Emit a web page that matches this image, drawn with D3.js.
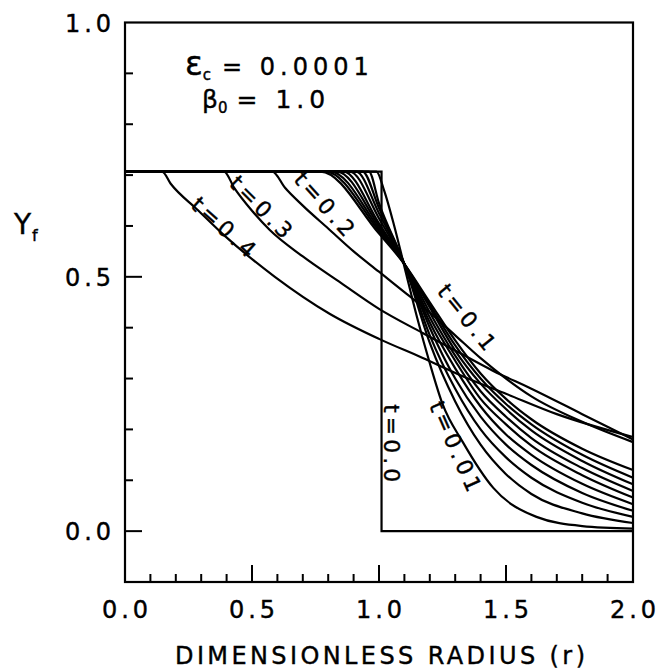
<!DOCTYPE html>
<html>
<head>
<meta charset="utf-8">
<script src="https://cdnjs.cloudflare.com/ajax/libs/d3/7.8.5/d3.min.js"></script>
<style>
  body { margin: 0; background: #fff; }
  svg text { font-family: "DejaVu Sans", sans-serif; fill: #000; stroke: #000; stroke-width: 0.4; }
  .curve { fill: none; stroke: #000; stroke-width: 2.2; }
  .frame { fill: none; stroke: #000; stroke-width: 2.2; }
  .tick { stroke: #000; stroke-width: 2; }
</style>
</head>
<body>
<div id="chart"></div>
<script>
// profiles of Yf against r, one array per time
var profile_t000 = [[0, 0.707], [1.01, 0.707], [1.01, 0], [2.0, 0]];
var profile_t001 = [[0, 0.707], [0.99, 0.707], [1.02, 0.67], [1.06, 0.60], [1.10, 0.52], [1.15, 0.42], [1.20, 0.33], [1.25, 0.25], [1.33, 0.175], [1.45, 0.085], [1.62, 0.028], [1.8, 0.01], [2.0, 0.005]];
var profile_t002 = [[0, 0.707], [0.96, 0.707], [1.0, 0.645], [1.1, 0.525], [1.2, 0.37], [1.3, 0.255], [1.4, 0.17], [1.5, 0.112], [1.6, 0.073], [1.8, 0.035], [2.0, 0.016]];
var profile_t003 = [[0, 0.707], [0.935, 0.707], [1.0, 0.635], [1.1, 0.525], [1.2, 0.385], [1.3, 0.28], [1.4, 0.20], [1.5, 0.145], [1.6, 0.105], [1.8, 0.056], [2.0, 0.028]];
var profile_t004 = [[0, 0.707], [0.91, 0.707], [1.0, 0.625], [1.1, 0.525], [1.2, 0.40], [1.3, 0.30], [1.4, 0.225], [1.5, 0.17], [1.6, 0.13], [1.8, 0.075], [2.0, 0.04]];
var profile_t005 = [[0, 0.707], [0.885, 0.707], [1.0, 0.615], [1.1, 0.525], [1.2, 0.41], [1.3, 0.32], [1.4, 0.245], [1.5, 0.19], [1.6, 0.15], [1.8, 0.093], [2.0, 0.053]];
var profile_t006 = [[0, 0.707], [0.86, 0.707], [1.0, 0.605], [1.1, 0.525], [1.2, 0.42], [1.3, 0.335], [1.4, 0.26], [1.5, 0.21], [1.6, 0.168], [1.8, 0.11], [2.0, 0.066]];
var profile_t007 = [[0, 0.707], [0.835, 0.707], [1.0, 0.60], [1.1, 0.525], [1.2, 0.43], [1.3, 0.345], [1.4, 0.275], [1.5, 0.225], [1.6, 0.183], [1.8, 0.124], [2.0, 0.079]];
var profile_t008 = [[0, 0.707], [0.81, 0.707], [1.0, 0.595], [1.1, 0.525], [1.2, 0.44], [1.3, 0.355], [1.4, 0.29], [1.5, 0.24], [1.6, 0.198], [1.8, 0.138], [2.0, 0.092]];
var profile_t009 = [[0, 0.707], [0.79, 0.707], [1.0, 0.59], [1.1, 0.525], [1.2, 0.445], [1.3, 0.365], [1.4, 0.30], [1.5, 0.25], [1.6, 0.21], [1.8, 0.15], [2.0, 0.105]];
var profile_t010 = [[0, 0.707], [0.77, 0.707], [1.0, 0.585], [1.1, 0.525], [1.2, 0.45], [1.3, 0.375], [1.4, 0.31], [1.5, 0.26], [1.6, 0.22], [1.8, 0.162], [2.0, 0.12]];
var profile_t020 = [[0, 0.707], [0.58, 0.707], [0.63, 0.675], [0.7, 0.64], [0.8, 0.595], [0.9, 0.55], [1.0, 0.51], [1.1, 0.47], [1.2, 0.43], [1.3, 0.385], [1.4, 0.34], [1.5, 0.30], [1.6, 0.265], [1.8, 0.215], [2.0, 0.175]];
var profile_t030 = [[0, 0.707], [0.39, 0.707], [0.43, 0.675], [0.5, 0.63], [0.57, 0.592], [0.7, 0.54], [0.85, 0.488], [1.0, 0.437], [1.17, 0.39], [1.3, 0.355], [1.45, 0.315], [1.6, 0.28], [1.8, 0.23], [2.0, 0.18]];
var profile_t040 = [[0, 0.707], [0.146, 0.707], [0.18, 0.683], [0.283, 0.633], [0.394, 0.58], [0.59, 0.50], [0.807, 0.427], [1.0, 0.378], [1.17, 0.341], [1.35, 0.30], [1.5, 0.27], [1.7, 0.23], [2.0, 0.185]];

var profiles = [profile_t001, profile_t002, profile_t003, profile_t004, profile_t005,
                profile_t006, profile_t007, profile_t008, profile_t009, profile_t010,
                profile_t020, profile_t030, profile_t040];

var xTicks = [0, 0.5, 1.0, 1.5, 2.0];
var yTicks = [0, 0.5, 1.0];
var curveLabels = ["t=0.4", "t=0.3", "t=0.2", "t=0.1", "t=0.01", "t=0.0"];

/**
 * Constructor for the profile chart
 */
function ProfileChart(){
    var self = this;
    self.init();
};

ProfileChart.prototype.init = function(){
    var self = this;
    self.width = 666;
    self.height = 670;

    self.svg = d3.select("#chart").append("svg")
        .attr("width", self.width)
        .attr("height", self.height);

    self.xScale = d3.scaleLinear().domain([0, 2]).range([125, 633]);
    self.yScale = d3.scaleLinear().domain([-0.1, 1.0]).range([582, 22.5]);
};

ProfileChart.prototype.drawAxes = function(){
    var self = this;
    var x = self.xScale, y = self.yScale;

    self.svg.append("rect")
        .attr("class", "frame")
        .attr("x", x(0)).attr("y", y(1.0))
        .attr("width", x(2) - x(0))
        .attr("height", y(-0.1) - y(1.0));

    //minor ticks every 0.1, major ones a bit longer, all pointing inward
    var xMinor = d3.range(1, 20).map(function(i){ return i / 10; });
    self.svg.selectAll(".xtick").data(xMinor).enter().append("line")
        .attr("class", "tick")
        .attr("x1", function(d){ return x(d); })
        .attr("x2", function(d){ return x(d); })
        .attr("y1", y(-0.1))
        .attr("y2", function(d){
            var major = Math.abs(d * 2 - Math.round(d * 2)) < 1e-6;
            return y(-0.1) - (major ? 17 : 8);
        });

    var yMinor = d3.range(0, 10).map(function(i){ return i / 10; });
    self.svg.selectAll(".ytick").data(yMinor).enter().append("line")
        .attr("class", "tick")
        .attr("y1", function(d){ return y(d); })
        .attr("y2", function(d){ return y(d); })
        .attr("x1", x(0))
        .attr("x2", function(d){
            var major = Math.abs(d * 2 - Math.round(d * 2)) < 1e-6;
            return x(0) + (major ? 17 : 8);
        });

    self.svg.selectAll(".xlabel").data(xTicks).enter().append("text")
        .attr("x", function(d){ return x(d); })
        .attr("y", 618)
        .attr("text-anchor", "middle")
        .attr("textLength", 46)
        .attr("lengthAdjust", "spacing")
        .style("font-size", "24px")
        .text(function(d){ return d.toFixed(1); });

    self.svg.selectAll(".ylabel").data(yTicks).enter().append("text")
        .attr("x", 65)
        .attr("y", function(d){ return y(d) + 9; })
        .attr("textLength", 46)
        .attr("lengthAdjust", "spacing")
        .style("font-size", "24px")
        .text(function(d){ return d.toFixed(1); });

    self.svg.append("text")
        .attr("x", 175).attr("y", 664)
        .attr("textLength", 410)
        .attr("lengthAdjust", "spacing")
        .style("font-size", "24px")
        .text("DIMENSIONLESS RADIUS (r)");

    var yl = self.svg.append("text").attr("x", 14).attr("y", 234).style("font-size", "28px");
    yl.append("tspan").text("Y");
    yl.append("tspan").attr("dy", 7).attr("dx", 1).style("font-size", "16px").text("f");

    var e = self.svg.append("text").attr("x", 185).attr("y", 75).style("font-size", "24px");
    e.append("tspan").style("font-size", "33px").text("ε");
    e.append("tspan").attr("dy", 5).style("font-size", "15px").text("c");
    e.append("tspan").attr("dy", -5).attr("dx", 11).style("letter-spacing", "5px").text("= 0.0001");

    var b = self.svg.append("text").attr("x", 202).attr("y", 108).style("font-size", "25px");
    b.append("tspan").text("β");
    b.append("tspan").attr("dy", 5).style("font-size", "15px").text("0");
    b.append("tspan").attr("dy", -5).attr("dx", 9).style("letter-spacing", "5px").text("= 1.0");
};

ProfileChart.prototype.update = function(){
    var self = this;
    var x = self.xScale, y = self.yScale;

    var line = d3.line()
        .x(function(d){ return x(d[0]); })
        .y(function(d){ return y(d[1]); })
        .curve(d3.curveMonotoneX);

    self.svg.append("path")
        .attr("class", "curve")
        .attr("d", d3.line()
            .x(function(d){ return x(d[0]); })
            .y(function(d){ return y(d[1]); })(profile_t000));

    self.svg.selectAll(".profile").data(profiles).enter().append("path")
        .attr("class", "curve")
        .attr("d", line);

    //labels written along the curves: [r, Yf, rotation]
    var labelSpots = [[0.374, 0.584, 42], [0.52, 0.624, 45], [0.768, 0.63, 48], [1.327, 0.408, 51], [1.276, 0.157, 66], [1.018, 0.169, 90]];
    self.svg.selectAll(".clabel").data(curveLabels).enter().append("text")
        .attr("text-anchor", "middle")
        .style("font-size", "22px")
        .style("letter-spacing", "4px")
        .attr("transform", function(d, i){
            var s = labelSpots[i];
            return "translate(" + x(s[0]) + "," + y(s[1]) + ") rotate(" + s[2] + ")";
        })
        .text(function(d){ return d; });
};

var chart = new ProfileChart();
chart.drawAxes();
chart.update();
</script>
</body>
</html>
